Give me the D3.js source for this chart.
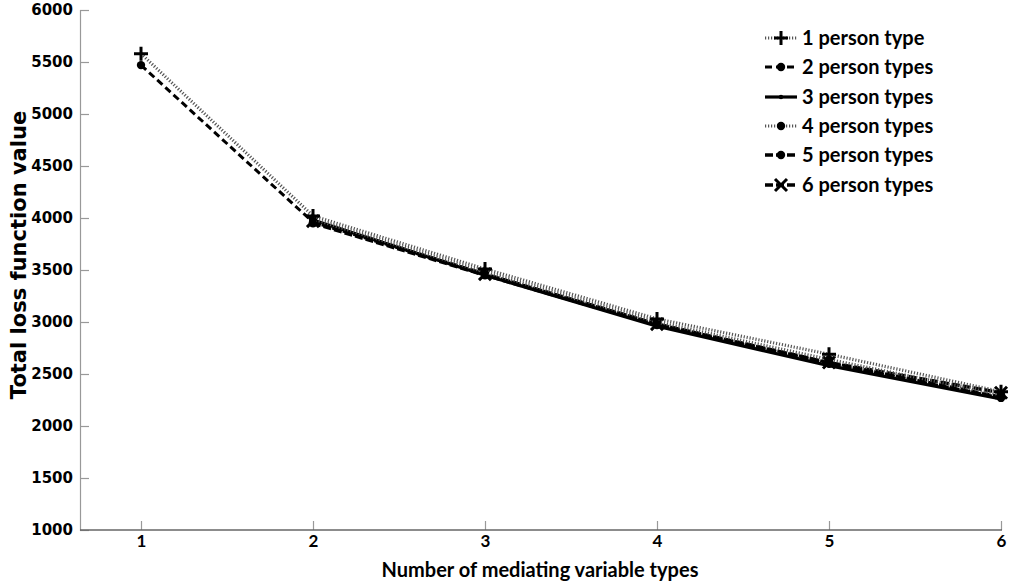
<!DOCTYPE html>
<html>
<head>
<meta charset="utf-8">
<script src="https://cdn.jsdelivr.net/npm/d3@7"></script>
<style>
  body { margin: 0; background: #fff; }
  svg { display: block; }
</style>
</head>
<body>
<div id="chart"></div>
<script>
// data
var mediatingTypes = [1, 2, 3, 4, 5, 6];
var seriesNames = ["1 person type", "2 person types", "3 person types",
                   "4 person types", "5 person types", "6 person types"];
var loss1 = [5580, 4020, 3510, 3030, 2690, 2330];
var loss2 = [5470, 3960, 3460, 2980, 2610, 2280];
var loss3 = [null, 3980, 3450, 2960, 2580, 2260];
var loss4 = [null, 3990, 3480, 3000, 2640, 2300];
var loss5 = [null, 3950, 3450, 2970, 2600, 2270];
var loss6 = [null, 3970, 3460, 2980, 2610, 2320];
var yTicks = [1000, 1500, 2000, 2500, 3000, 3500, 4000, 4500, 5000, 5500, 6000];

var allLoss = [loss1, loss2, loss3, loss4, loss5, loss6];

// line and marker style per series
var styles = [
  { dash: "1.2,1.8", width: 3.2, color: "#555", marker: "plus" },
  { dash: "7,4",     width: 3,   color: "#000", marker: "dot" },
  { dash: null,      width: 3.2, color: "#000", marker: "tick" },
  { dash: "1.2,1.8", width: 3.2, color: "#555", marker: "dot" },
  { dash: "8,3",     width: 3.4, color: "#000", marker: "dot" },
  { dash: "8,3",     width: 3.4, color: "#000", marker: "cross" }
];

var svgWidth = 1014;
var svgHeight = 583;

var svg = d3.select("#chart")
  .append("svg")
  .attr("width", svgWidth)
  .attr("height", svgHeight);

var axisLeftX = 80;
var axisRightX = 1002;

var xScale = d3.scaleLinear()
  .domain([1, 6])
  .range([141, 1001]);

var yScale = d3.scaleLinear()
  .domain([1000, 6000])
  .range([530, 10]);

// y axis, ticks pointing into the plot
var yAxis = d3.axisLeft(yScale)
  .tickValues(yTicks)
  .tickSize(-9)
  .tickPadding(7)
  .tickFormat(d3.format("d"));

var yAxisGroup = svg.append("g")
  .attr("transform", `translate(${axisLeftX}, 0)`)
  .call(yAxis);
yAxisGroup.select(".domain").attr("stroke", "#999").attr("stroke-width", 1.2);
yAxisGroup.selectAll(".tick line").attr("stroke", "#999").attr("stroke-width", 1.2);
yAxisGroup.selectAll(".tick text")
  .attr("font-family", "'DejaVu Sans', Verdana, sans-serif")
  .attr("font-weight", "bold")
  .attr("font-size", "15px")
  .attr("fill", "#000");

// x axis
var xAxis = d3.axisBottom(xScale)
  .tickValues(mediatingTypes)
  .tickSize(-9)
  .tickPadding(5)
  .tickFormat(d3.format("d"));

var xAxisGroup = svg.append("g")
  .attr("transform", `translate(0, 530)`)
  .call(xAxis);
xAxisGroup.select(".domain").remove();
xAxisGroup.append("line")
  .attr("x1", axisLeftX).attr("x2", axisRightX)
  .attr("y1", 0).attr("y2", 0)
  .attr("stroke", "#666").attr("stroke-width", 1.5);
xAxisGroup.selectAll(".tick line").attr("stroke", "#999").attr("stroke-width", 1.2);
xAxisGroup.selectAll(".tick text")
  .attr("font-family", "Lato, 'Open Sans', sans-serif")
  .attr("font-weight", "bold")
  .attr("font-size", "17px")
  .attr("fill", "#000");

// axis titles
svg.append("text")
  .attr("x", 540)
  .attr("y", 577)
  .attr("text-anchor", "middle")
  .attr("font-family", "Lato, 'Open Sans', sans-serif")
  .attr("font-weight", "bold")
  .attr("font-size", "20px")
  .text("Number of mediating variable types");

svg.append("text")
  .attr("transform", "rotate(-90)")
  .attr("x", -255)
  .attr("y", 26)
  .attr("text-anchor", "middle")
  .attr("font-family", "'DejaVu Sans', Verdana, sans-serif")
  .attr("font-weight", "bold")
  .attr("font-size", "21px")
  .text("Total loss function value");

// marker drawing
function drawMarker(g, type, x, y, color) {
  if (type === "plus") {
    g.append("path")
      .attr("d", `M${x - 7},${y}H${x + 7}M${x},${y - 7}V${y + 7}`)
      .attr("stroke", "#000").attr("stroke-width", 3).attr("fill", "none");
  } else if (type === "dot") {
    g.append("circle")
      .attr("cx", x).attr("cy", y).attr("r", 4.2)
      .attr("fill", "#000");
  } else if (type === "tick") {
    g.append("circle")
      .attr("cx", x).attr("cy", y).attr("r", 2.2)
      .attr("fill", "#000");
  } else if (type === "cross") {
    g.append("path")
      .attr("d", `M${x - 6},${y - 6}L${x + 6},${y + 6}M${x - 6},${y + 6}L${x + 6},${y - 6}`)
      .attr("stroke", "#000").attr("stroke-width", 3).attr("fill", "none");
  }
}

var line = d3.line()
  .defined(d => d.v !== null)
  .x(d => xScale(d.x))
  .y(d => yScale(d.v));

var plotGroup = svg.append("g");

// draw solid/dashed first, dotted on top like the original
var drawOrder = [2, 4, 5, 1, 3, 0];
drawOrder.forEach(function(i) {
  var pts = mediatingTypes.map((x, j) => ({ x: x, v: allLoss[i][j] }));
  var st = styles[i];
  plotGroup.append("path")
    .datum(pts)
    .attr("d", line)
    .attr("fill", "none")
    .attr("stroke", st.color)
    .attr("stroke-width", st.width)
    .attr("stroke-dasharray", st.dash)
    .attr("stroke-linejoin", "round");
  var mg = plotGroup.append("g");
  pts.filter(d => d.v !== null).forEach(function(d) {
    drawMarker(mg, st.marker, xScale(d.x), yScale(d.v), st.color);
  });
});

// legend
var legendY = [38, 67, 97, 126, 155, 185];
var legend = svg.append("g");
seriesNames.forEach(function(name, i) {
  var st = styles[i];
  var y = legendY[i];
  legend.append("line")
    .attr("x1", 765).attr("x2", 797)
    .attr("y1", y).attr("y2", y)
    .attr("stroke", st.color)
    .attr("stroke-width", st.width)
    .attr("stroke-dasharray", st.dash);
  drawMarker(legend, st.marker, 781, y, st.color);
  legend.append("text")
    .attr("x", 802)
    .attr("y", y)
    .attr("dy", "0.35em")
    .attr("font-family", "Lato, 'Open Sans', sans-serif")
    .attr("font-weight", "bold")
    .attr("font-size", "20px")
    .text(name);
});
</script>
</body>
</html>
